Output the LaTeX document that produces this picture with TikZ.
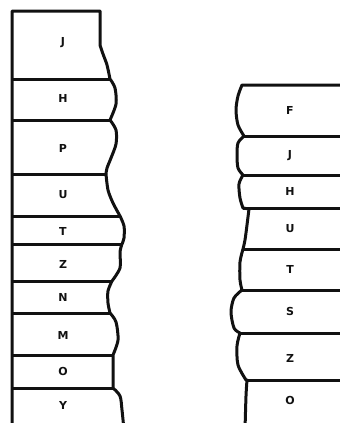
\documentclass[tikz,border=0pt]{standalone}
\usepackage{fontspec}
\usepackage{tikz}
\usetikzlibrary{positioning,calc}
\newfontfamily\lettrefont{DejaVu Sans}
\definecolor{trait}{HTML}{111111}
\tikzset{
  bord/.style={draw=trait, line width=3pt, line join=round, line cap=round},
  limite/.style={draw=trait, line width=3pt},
  lettre/.style={font=\lettrefont\bfseries\fontsize{11}{13}\selectfont, text=trait, inner sep=0pt},
}

\begin{document}
\begin{tikzpicture}[x=1pt, y=-1pt]
    \useasboundingbox (0,0) rectangle (340,423);
    \clip (0,0) rectangle (340,423);
    % colonne de gauche : contour
    \draw[bord] (12,430) -- (12,11) -- (100,11) -- (100,45)
      -- plot[smooth] coordinates {(100,45) (103,54) (107,65) (110,79)}
      -- plot[smooth] coordinates {(110,79) (115,88) (116,104) (110,120)}
      -- plot[smooth] coordinates {(110,120) (116,130) (116,144) (111,158) (107,168) (106,174)}
      -- plot[smooth] coordinates {(106,174) (108,190) (113,203) (120,216)}
      -- plot[smooth] coordinates {(120,216) (124,226) (124,238) (122,244)}
      -- plot[smooth] coordinates {(122,244) (120,252) (120,268) (112,281)}
      -- plot[smooth] coordinates {(112,281) (108,291) (108,303) (110,313)}
      -- plot[smooth] coordinates {(110,313) (116,322) (118,340) (113,355)}
      -- plot[smooth] coordinates {(113,355) (113,370) (113,388)}
      -- plot[smooth] coordinates {(113,388) (120,396) (122,410) (124,430)};
    % colonne de gauche : limites
    \draw[limite] (12,79) -- (110,79);
    \draw[limite] (12,120) -- (110,120);
    \draw[limite] (12,174) -- (106,174);
    \draw[limite] (12,216) -- (120,216);
    \draw[limite] (12,244) -- (122,244);
    \draw[limite] (12,281) -- (112,281);
    \draw[limite] (12,313) -- (110,313);
    \draw[limite] (12,355) -- (113,355);
    \draw[limite] (12,388) -- (113,388);
    % colonne de droite : contour
    \draw[bord] (350,85) -- (242,85)
      -- plot[smooth] coordinates {(242,85) (238,96) (236,110) (238,125) (244,136)}
      -- plot[smooth] coordinates {(244,136) (238,143) (237,155) (238,168) (243,175)}
      -- plot[smooth] coordinates {(243,175) (239,184) (240,198) (243,208)}
      -- plot[smooth] coordinates {(249,209) (247,225) (245,240) (243,249)}
      -- plot[smooth] coordinates {(243,249) (240,262) (240,280) (242,290)}
      -- plot[smooth] coordinates {(242,290) (234,298) (231,312) (234,328) (240,333)}
      -- plot[smooth] coordinates {(240,333) (237,346) (238,365) (246,380)}
      -- plot[smooth] coordinates {(247,380) (246,396) (245,430)};
    % colonne de droite : limites
    \draw[limite] (244,136) -- (350,136);
    \draw[limite] (243,175) -- (350,175);
    \draw[limite] (243,208) -- (350,208);
    \draw[limite] (243,249) -- (350,249);
    \draw[limite] (242,290) -- (350,290);
    \draw[limite] (240,333) -- (350,333);
    \draw[limite] (246,380) -- (350,380);
    % lettres
    \node[lettre] (g-J) at (63,43) {J};
    \node[lettre] (g-H) at (63,98) {H};
    \node[lettre] (g-P) at (63,148) {P};
    \node[lettre] (g-U) at (63,195) {U};
    \node[lettre] (g-T) at (63,231) {T};
    \node[lettre] (g-Z) at (63,264) {Z};
    \node[lettre] (g-N) at (63,297) {N};
    \node[lettre] (g-M) at (63,335) {M};
    \node[lettre] (g-O) at (63,371) {O};
    \node[lettre] (g-Y) at (63,405) {Y};
    \node[lettre] (d-F) at (290,110) {F};
    \node[lettre] (d-J) at (290,156) {J};
    \node[lettre] (d-H) at (290,191) {H};
    \node[lettre] (d-U) at (290,229) {U};
    \node[lettre] (d-T) at (290,269) {T};
    \node[lettre] (d-S) at (290,311) {S};
    \node[lettre] (d-Z) at (290,358) {Z};
    \node[lettre] (d-O) at (290,400) {O};
  \end{tikzpicture}
\end{document}
